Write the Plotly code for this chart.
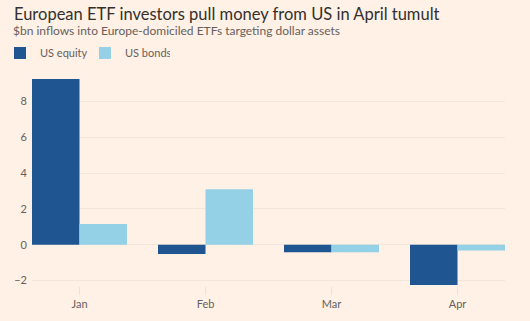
import plotly.graph_objects as go

months = ["Jan", "Feb", "Mar", "Apr"]
us_equity = [9.25, -0.52, -0.42, -2.25]
us_bonds = [1.16, 3.1, -0.42, -0.32]
y_ticks = [-2, 0, 2, 4, 6, 8]

BG = "#FFF1E5"
fig = go.Figure()
fig.add_trace(go.Bar(x=months, y=us_equity, name="US equity", marker_color="#1f5590", marker_line_width=0))
fig.add_trace(go.Bar(x=months, y=us_bonds, name="US bonds", marker_color="#94d0e6", marker_line_width=0))

fig.update_layout(
    width=530, height=321,
    paper_bgcolor=BG, plot_bgcolor=BG,
    barmode="group", bargap=0.246, bargroupgap=0,
    margin=dict(l=32, r=25, t=78, b=35, autoexpand=False),
    font=dict(family="Lato, sans-serif", color="#66605c", size=11),
    title=dict(text="European ETF investors pull money from US in April tumult",
               x=14/530, xref="container", xanchor="left",
               y=1 - 14/321, yref="container", yanchor="middle",
               font=dict(size=16.5, color="#33302e", family="Lato, sans-serif")),
    annotations=[dict(text="$bn inflows into Europe-domiciled ETFs targeting dollar assets",
                      xref="paper", yref="paper", x=-21/473, y=1 + (78 - 31) / 208,
                      xanchor="left", yanchor="middle", showarrow=False,
                      font=dict(size=12, color="#66605c"))],
    legend=dict(orientation="h", xref="container", yref="container", x=0.0, xanchor="left",
                y=1 - 53/321, yanchor="middle",
                font=dict(size=11, color="#66605c"), itemwidth=30, traceorder="normal",
                entrywidth=40, entrywidthmode="pixels",
                bgcolor="rgba(0,0,0,0)"),
    showlegend=True,
)
fig.update_xaxes(range=[-0.377, 3.377], showgrid=False, ticks="outside", ticklen=8,
                 tickcolor="#eee2d6", showline=False, tickfont=dict(size=11, color="#66605c"))
fig.update_yaxes(range=[-2.3, 9.3], tickvals=y_ticks, showgrid=True, gridcolor="#f2e5d9",
                 zeroline=False, ticks="", ticklabelstandoff=4, tickfont=dict(size=11, color="#66605c"))

fig.write_html("out.html")
